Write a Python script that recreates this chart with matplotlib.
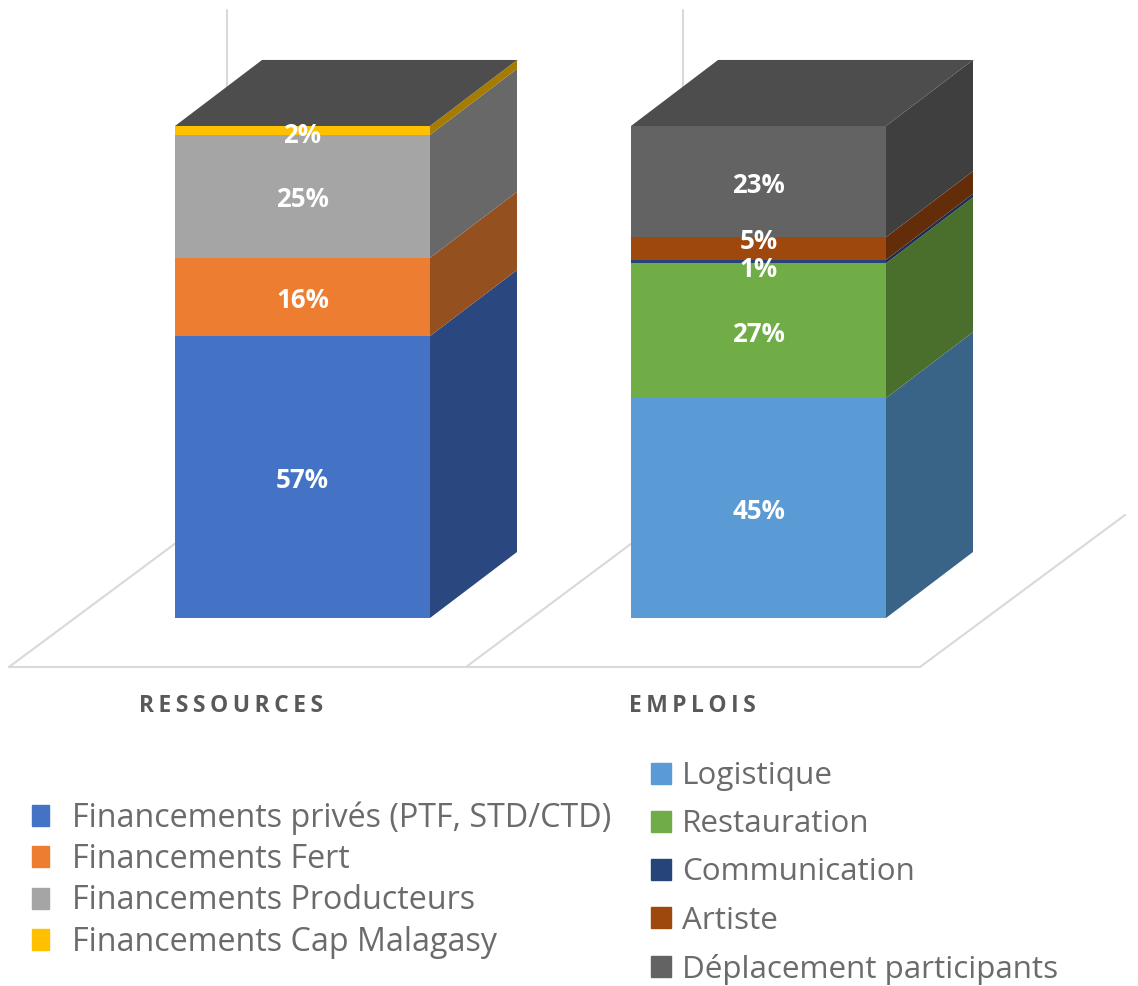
import matplotlib
matplotlib.use("Agg")
import matplotlib.pyplot as plt
from matplotlib.patches import Polygon, Patch

plt.rcParams['font.family'] = ['Open Sans', 'DejaVu Sans']

categories = ["RESSOURCES", "EMPLOIS"]
res_names = ["Financements privés (PTF, STD/CTD)", "Financements Fert",
             "Financements Producteurs", "Financements Cap Malagasy"]
res_values = [57.3, 15.9, 25.0, 1.8]
emp_names = ["Logistique", "Restauration", "Communication", "Artiste",
             "Déplacement participants"]
emp_values = [44.7, 27.4, 0.7, 4.6, 22.6]

res_front = ["#4472C4", "#ED7D31", "#A5A5A5", "#FFC000"]
res_side = ["#2A4780", "#95501F", "#686868", "#A67C00"]
emp_front = ["#5B9BD5", "#70AD47", "#264478", "#9E480E", "#636363"]
emp_side = ["#3A6388", "#4A6F2D", "#1B2F52", "#642D09", "#3F3F3F"]
res_label_shift = [-0.7, -0.7, -0.7, -1.0]
emp_label_shift = [-0.7, -0.7, -1.7, 1.4, -0.7]

W, H = 1138, 986
PX_X = 456.0           # pixels per category
PX_Y = 4.92            # pixels per percentage point
X0 = 302.5             # pixel centre of the first category
Y0 = 618.0             # pixel row of 0 %
BAR_W = 255 / PX_X
DX = 87 / PX_X         # oblique depth
DY = 66 / PX_Y

fig = plt.figure(figsize=(W / 100, H / 100), dpi=100)
ax = fig.add_axes([0, 0, 1, 1])
ax.set_xlim(-X0 / PX_X, (W - X0) / PX_X)
ax.set_ylim(-(H - Y0) / PX_Y, Y0 / PX_Y)
ax.axis("off")

def px(x, y):
    return (x - X0) / PX_X, (Y0 - y) / PX_Y

GRID = "#D9D9D9"
floor_y = 667
for p, q in [((9, floor_y), (920, floor_y)),
             ((9, floor_y), (227, 505)),
             ((466, floor_y), (683, 505)),
             ((920, floor_y), (1125, 515)),
             ((227, 505), (227, 10)),
             ((683, 505), (683, 10))]:
    a, b = px(*p), px(*q)
    ax.plot([a[0], b[0]], [a[1], b[1]], color=GRID, lw=1.5, zorder=1,
            solid_capstyle="round")

def stack(i, values, front, side, shifts):
    x_l, x_r = i - BAR_W / 2, i + BAR_W / 2
    bottom = 0.0
    for v, fc, sc, s in zip(values, front, side, shifts):
        ax.bar(i, v, BAR_W, bottom=bottom, color=fc, lw=0, zorder=3)
        ax.add_patch(Polygon([(x_r, bottom), (x_r + DX, bottom + DY),
                              (x_r + DX, bottom + v + DY), (x_r, bottom + v)],
                             closed=True, fc=sc, ec="none", zorder=3))
        ax.text(i, bottom + v / 2 + s, f"{v:.0f}%", color="white", ha="center",
                va="center", fontsize=18.6, fontweight="bold", zorder=5)
        bottom += v
    ax.add_patch(Polygon([(x_l, bottom), (x_r, bottom),
                          (x_r + DX, bottom + DY), (x_l + DX, bottom + DY)],
                         closed=True, fc="#4D4D4D", ec="none", zorder=3))
    ax.plot([x_l + DX, x_r + DX], [bottom + DY] * 2, color=GRID, lw=1, zorder=2)

stack(0, res_values, res_front, res_side, res_label_shift)
stack(1, emp_values, emp_front, emp_side, emp_label_shift)

label_px = [231.5, 692]
for c, xp in zip(categories, label_px):
    ax.text(px(xp, 0)[0], px(0, 706)[1], "\u200a\u200a".join(c),
            ha="center", va="center", fontsize=16.5, fontweight="bold",
            color="#595959")

TXT = "#6B6B6B"
leg1 = fig.legend(handles=[Patch(color=c, label=n) for c, n in zip(res_front, res_names)],
                  loc="center left", bbox_to_anchor=(32 / W, 1 - 880 / H),
                  frameon=False, fontsize=23.2, labelcolor=TXT, borderpad=0, borderaxespad=0,
                  labelspacing=0.26, handlelength=0.53, handleheight=0.63, handletextpad=0.72)
leg2 = fig.legend(handles=[Patch(color=c, label=n) for c, n in zip(emp_front, emp_names)],
                  loc="center left", bbox_to_anchor=(651 / W, 1 - 873 / H),
                  frameon=False, fontsize=22.6, labelcolor=TXT, borderpad=0, borderaxespad=0,
                  labelspacing=0.575, handlelength=0.64, handleheight=0.64, handletextpad=0.35)

fig.savefig("out.png", dpi=100, facecolor="white")
